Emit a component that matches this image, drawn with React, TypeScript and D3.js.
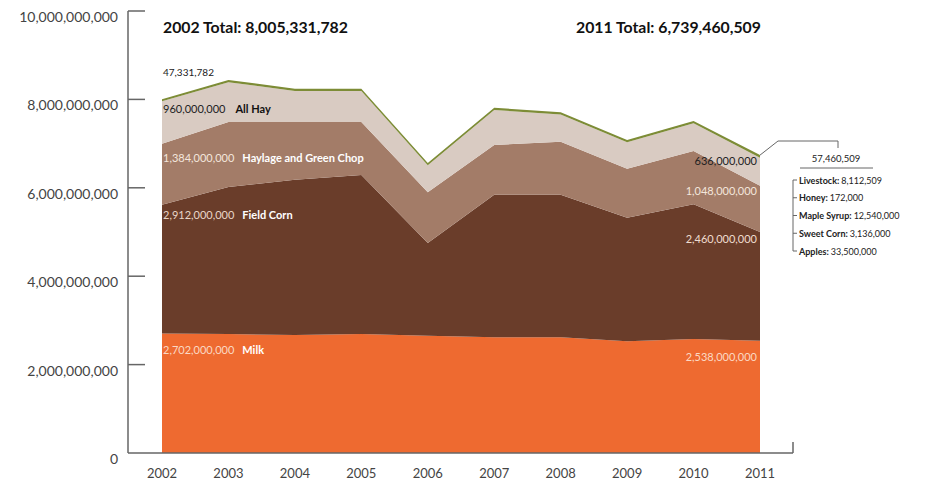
import React from "react";
import * as d3 from "d3";

const years = [2002, 2003, 2004, 2005, 2006, 2007, 2008, 2009, 2010, 2011];
const milk = [2.702e9, 2.69e9, 2.67e9, 2.69e9, 2.65e9, 2.62e9, 2.62e9, 2.53e9, 2.58e9, 2.538e9];
const fieldCorn = [2.912e9, 3.33e9, 3.51e9, 3.6e9, 2.1e9, 3.22e9, 3.22e9, 2.79e9, 3.05e9, 2.46e9];
const haylage = [1.384e9, 1.47e9, 1.31e9, 1.2e9, 1.15e9, 1.13e9, 1.2e9, 1.11e9, 1.2e9, 1.048e9];
const allHay = [0.96e9, 0.9e9, 0.7e9, 0.7e9, 0.61e9, 0.79e9, 0.62e9, 0.6e9, 0.63e9, 0.636e9];
const other = [47331782, 50e6, 50e6, 50e6, 50e6, 50e6, 50e6, 50e6, 50e6, 57460509];
const yTicks = [0, 2e9, 4e9, 6e9, 8e9, 10e9];
const otherItems = [
  ["Livestock:", "8,112,509"],
  ["Honey:", "172,000"],
  ["Maple Syrup:", "12,540,000"],
  ["Sweet Corn:", "3,136,000"],
  ["Apples:", "33,500,000"],
];

const keys = ["milk", "fieldCorn", "haylage", "allHay", "other"];
const colors: Record<string, string> = {
  milk: "#ee6a30",
  fieldCorn: "#6a3d2a",
  haylage: "#a37c68",
  allHay: "#d9cbc2",
  other: "#7d8c36",
};

export default function App() {
  const W = 931, H = 485;
  const x = d3.scaleLinear().domain([2002, 2011]).range([162, 760]);
  const y = d3.scaleLinear().domain([0, 10e9]).range([453, 11]);
  const table = years.map((yr, i) => ({
    year: yr,
    milk: milk[i],
    fieldCorn: fieldCorn[i],
    haylage: haylage[i],
    allHay: allHay[i],
    other: other[i],
  }));
  const series = d3.stack<any>().keys(keys)(table);
  const area = d3
    .area<any>()
    .x((d) => x(d.data.year))
    .y0((d) => y(d[0]))
    .y1((d) => y(d[1]));
  const fmt = d3.format(",");
  const font = "Lato, 'Open Sans', sans-serif";
  const axisX = 128;
  const last = years.length - 1;
  const topLast = y(series[4][last][1]);

  return (
    <svg
      width={W}
      height={H}
      style={{ position: "absolute", left: 0, top: 0, background: "#fff" }}
      fontFamily={font}
    >
      {series.map((s) => (
        <path key={s.key} d={area(s) as string} fill={colors[s.key]} />
      ))}
      {/* axis */}
      <line x1={axisX} x2={axisX} y1={y(10e9)} y2={y(0)} stroke="#666" strokeWidth={1.5} />
      <line x1={axisX} x2={793} y1={y(0)} y2={y(0)} stroke="#666" strokeWidth={1.5} />
      <line x1={793} x2={793} y1={y(0)} y2={y(0) - 11} stroke="#666" strokeWidth={1.5} />
      {yTicks.map((t) => (
        <g key={t}>
          {t > 0 && (
            <line x1={axisX} x2={145} y1={y(t)} y2={y(t)} stroke="#666" strokeWidth={1.5} />
          )}
          <text x={118} y={y(t) + 11} textAnchor="end" fontSize={14} fill="#444">
            {fmt(t)}
          </text>
        </g>
      ))}
      {years.map((yr) => (
        <text key={yr} x={x(yr)} y={478} textAnchor="middle" fontSize={13} fill="#444">
          {yr}
        </text>
      ))}
      {/* titles */}
      <text x={163} y={33} fontSize={15.8} fontWeight="bold" fill="#111">
        2002 Total: 8,005,331,782
      </text>
      <text x={576} y={33} fontSize={15.8} fontWeight="bold" fill="#111">
        2011 Total: 6,739,460,509
      </text>
      {/* left labels */}
      <text x={163} y={76} fontSize={10} fill="#222">{fmt(other[0])}</text>
      <text x={163} y={113} fontSize={11} fill="#222">
        {fmt(allHay[0])}
        <tspan dx={10} fontWeight="bold" fill="#111">All Hay</tspan>
      </text>
      <text x={163} y={162} fontSize={11} fill="#f3e6dc">
        {fmt(haylage[0])}
        <tspan dx={8} fontWeight="bold" fill="#fff">Haylage and Green Chop</tspan>
      </text>
      <text x={163} y={219} fontSize={11} fill="#e9d6c8">
        {fmt(fieldCorn[0])}
        <tspan dx={8} fontWeight="bold" fill="#fff">Field Corn</tspan>
      </text>
      <text x={163} y={354} fontSize={11} fill="#fbd9c4">
        {fmt(milk[0])}
        <tspan dx={8} fontWeight="bold" fill="#fff">Milk</tspan>
      </text>
      {/* right labels */}
      <text x={757} y={165} fontSize={11} textAnchor="end" fill="#222">{fmt(allHay[last])}</text>
      <text x={757} y={195} fontSize={11} textAnchor="end" fill="#f3e6dc">{fmt(haylage[last])}</text>
      <text x={757} y={243} fontSize={11} textAnchor="end" fill="#f0ddd0">{fmt(fieldCorn[last])}</text>
      <text x={757} y={361} fontSize={11} textAnchor="end" fill="#fbd9c4">{fmt(milk[last])}</text>
      {/* other leader */}
      <polyline
        points={`${x(2011)},${topLast} 778,141 838,141 838,148`}
        fill="none"
        stroke="#666"
        strokeWidth={1}
      />
      <text x={836} y={162} fontSize={9.5} textAnchor="middle" fill="#222">
        {fmt(other[last])}
      </text>
      <line x1={800} x2={873} y1={168} y2={168} stroke="#666" strokeWidth={1} />
      <line x1={793} x2={793} y1={180} y2={251} stroke="#666" strokeWidth={1} />
      {otherItems.map(([lab, val], i) => {
        const yy = 180 + i * 17.75;
        return (
          <g key={lab}>
            <line x1={793} x2={797} y1={yy} y2={yy} stroke="#666" strokeWidth={1} />
            <text x={799} y={yy + 3.5} fontSize={9} fill="#222">
              <tspan fontWeight="bold">{lab}</tspan>
              <tspan dx={2}>{val}</tspan>
            </text>
          </g>
        );
      })}
    </svg>
  );
}
